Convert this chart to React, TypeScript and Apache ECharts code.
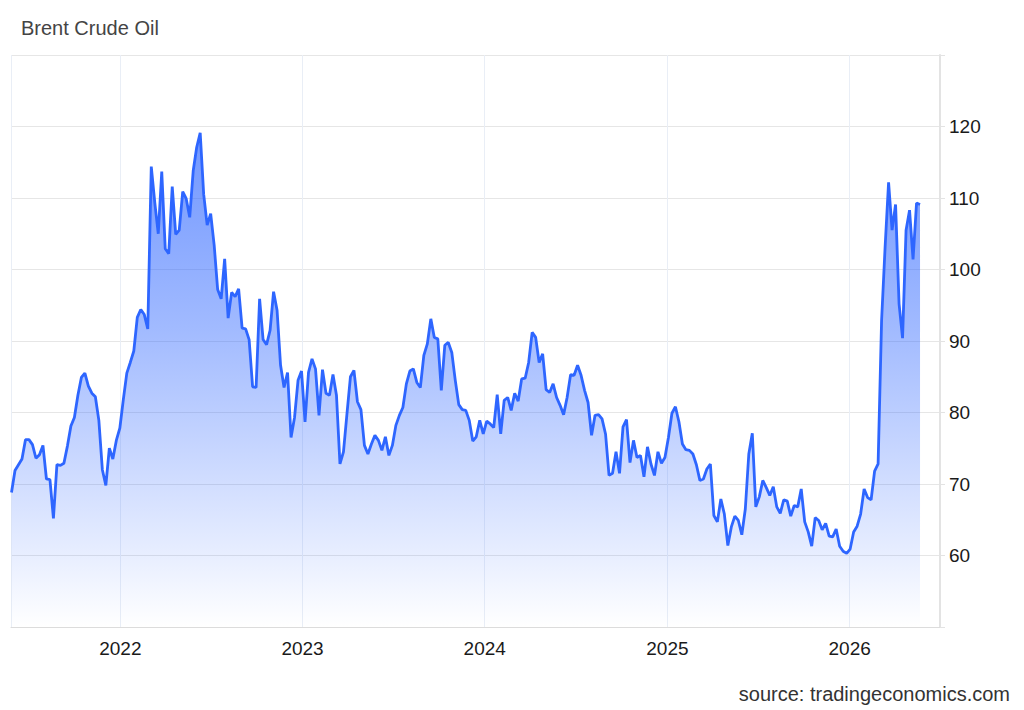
import React, { useEffect, useRef } from "react";
import * as echarts from "echarts";

// Weekly Brent closes, first week ending 2021-05-28
const START_DATE = Date.UTC(2021, 4, 28);
const WEEK_MS = 7 * 24 * 3600 * 1000;

const values2021 = [
  68.8, 71.9, 72.7, 73.5, 76.2, 76.2, 75.5, 73.6, 74.1, 75.4, 70.7, 70.6, 65.2, 72.7, 72.6, 72.9,
  75.3, 78.1, 79.3, 82.4, 84.9, 85.5, 83.7, 82.7, 82.2, 78.9, 72.0, 69.8, 75.0, 73.5, 76.1, 77.8,
];
const values2022 = [
  81.8, 85.5, 87.0, 88.6, 93.3, 94.4, 93.7, 91.7, 114.4, 109.4, 105.0, 113.7, 102.9, 102.2, 111.6, 104.9,
  105.5, 110.9, 109.9, 107.3, 113.8, 117.1, 119.1, 110.5, 106.2, 107.8, 103.4, 97.2, 95.9, 101.5, 93.2, 96.8,
  96.2, 97.3, 91.8, 91.7, 90.2, 83.6, 83.5, 95.9, 90.2, 89.5, 91.5, 96.9, 94.3, 86.6, 83.5, 85.6,
  76.5, 79.3, 84.5, 85.8,
];
const values2023 = [
  78.7, 85.6, 87.5, 86.1, 79.6, 86.0, 82.7, 82.4, 85.3, 82.4, 72.8, 74.5, 79.8, 85.0, 85.9, 81.5,
  80.4, 75.4, 74.2, 75.6, 76.8, 76.1, 74.7, 76.6, 74.0, 75.4, 78.2, 79.6, 80.7, 84.0, 85.8, 86.1,
  84.2, 83.5, 88.0, 89.6, 93.1, 90.5, 90.3, 83.1, 89.4, 89.8, 88.4, 84.5, 81.1, 80.4, 80.3, 78.9,
  76.0, 76.6, 78.9, 77.0,
];
const values2024 = [
  78.8, 78.4, 77.9, 82.5, 77.0, 81.7, 82.1, 80.3, 82.7, 81.6, 84.7, 84.8, 87.0, 91.2, 90.5, 87.0,
  88.2, 83.2, 82.8, 84.0, 82.1, 81.0, 79.7, 82.1, 85.3, 85.2, 86.6, 85.2, 83.1, 81.4, 76.8, 79.6,
  79.7, 79.1, 77.0, 71.2, 71.5, 74.5, 71.5, 78.0, 79.0, 73.0, 76.1, 73.7, 74.0, 71.0, 75.2, 72.8,
  71.2, 74.5, 72.9, 73.7,
];
const values2025 = [
  76.5, 79.9, 80.8, 78.7, 75.6, 74.8, 74.7, 74.2, 72.7, 70.5, 70.7, 72.1, 72.8, 65.6, 64.7, 67.9,
  65.8, 61.4, 64.0, 65.5, 64.9, 62.9, 66.5, 74.2, 77.1, 66.8, 68.2, 70.5, 69.5, 68.4, 69.6, 66.8,
  65.9, 67.8, 67.6, 65.5, 67.0, 66.8, 69.3, 64.7, 63.3, 61.3, 65.3, 64.9, 63.6, 64.5, 62.7, 62.6,
  63.7, 61.3, 60.6, 60.3,
];
const values2026 = [
  60.9, 63.3, 64.1, 65.8, 69.3, 68.1, 67.8, 71.8, 72.8, 92.9, 103.1, 112.2, 105.5, 109.1, 95.2, 90.4,
  105.5, 108.3, 101.4, 109.3, 109.1,
];

const Y_TICKS = [60, 70, 80, 90, 100, 110, 120];

const TITLE = "Brent Crude Oil";
const SOURCE = "source: tradingeconomics.com";

export default function App() {
  const ref = useRef<HTMLDivElement>(null);

  useEffect(() => {
    if (!ref.current) return;
    const chart = echarts.init(ref.current, null, { renderer: "svg" });
    const allValues = [
      ...values2021,
      ...values2022,
      ...values2023,
      ...values2024,
      ...values2025,
      ...values2026,
    ];
    const data = allValues.map((v, i) => [START_DATE + i * WEEK_MS, v]);
    const font = "Arial, 'Liberation Sans', sans-serif";

    chart.setOption({
      animation: false,
      backgroundColor: "#ffffff",
      textStyle: { fontFamily: font },
      title: [
        {
          text: TITLE,
          left: 16,
          top: 13,
          textStyle: { fontSize: 20, fontWeight: "normal", color: "#444444", fontFamily: font },
        },
        {
          text: SOURCE,
          right: 9,
          top: 679,
          textStyle: { fontSize: 20, fontWeight: "normal", color: "#333333", fontFamily: font },
        },
      ],
      grid: { left: 11, right: 84, top: 55, bottom: 83, containLabel: false },
      xAxis: {
        type: "time",
        min: Date.UTC(2021, 4, 27),
        max: Date.UTC(2026, 6, 1),
        minInterval: 365 * 24 * 3600 * 1000,
        axisLine: { show: true, lineStyle: { color: "#dcdcdc", width: 1 } },
        axisTick: { show: false },
        splitLine: { show: true, lineStyle: { color: "#e9eef6", width: 1 } },
        axisLabel: {
          color: "#1a1a1a",
          fontSize: 19,
          margin: 12,
          fontFamily: font,
          formatter: (val: number) => String(new Date(val).getFullYear()),
        },
      },
      yAxis: {
        type: "value",
        position: "right",
        min: 50,
        max: 130,
        interval: 10,
        axisLine: { show: true, lineStyle: { color: "#e3e3e3", width: 2 } },
        axisTick: { show: true, length: 5, lineStyle: { color: "#e3e3e3" } },
        splitLine: { show: true, lineStyle: { color: "#e6e6e6", width: 1 } },
        axisLabel: {
          color: "#1a1a1a",
          fontSize: 19,
          margin: 9,
          fontFamily: font,
          formatter: (v: number) => (Y_TICKS.includes(v) ? String(v) : ""),
        },
      },
      series: [
        {
          type: "line",
          data,
          showSymbol: false,
          symbol: "none",
          lineStyle: { color: "#2e66ff", width: 2.8 },
          itemStyle: { color: "#2e66ff" },
          areaStyle: {
            origin: "start",
            color: new echarts.graphic.LinearGradient(0, 0, 0, 1, [
              { offset: 0, color: "rgba(41,98,255,0.95)" },
              { offset: 0.4, color: "rgba(41,98,255,0.62)" },
              { offset: 0.85, color: "rgba(41,98,255,0.16)" },
              { offset: 1, color: "rgba(41,98,255,0.0)" },
            ]),
          },
        },
      ],
    });
    return () => chart.dispose();
  }, []);

  return (
    <div
      ref={ref}
      style={{ position: "fixed", left: 0, top: 0, width: 1024, height: 710 }}
    />
  );
}
